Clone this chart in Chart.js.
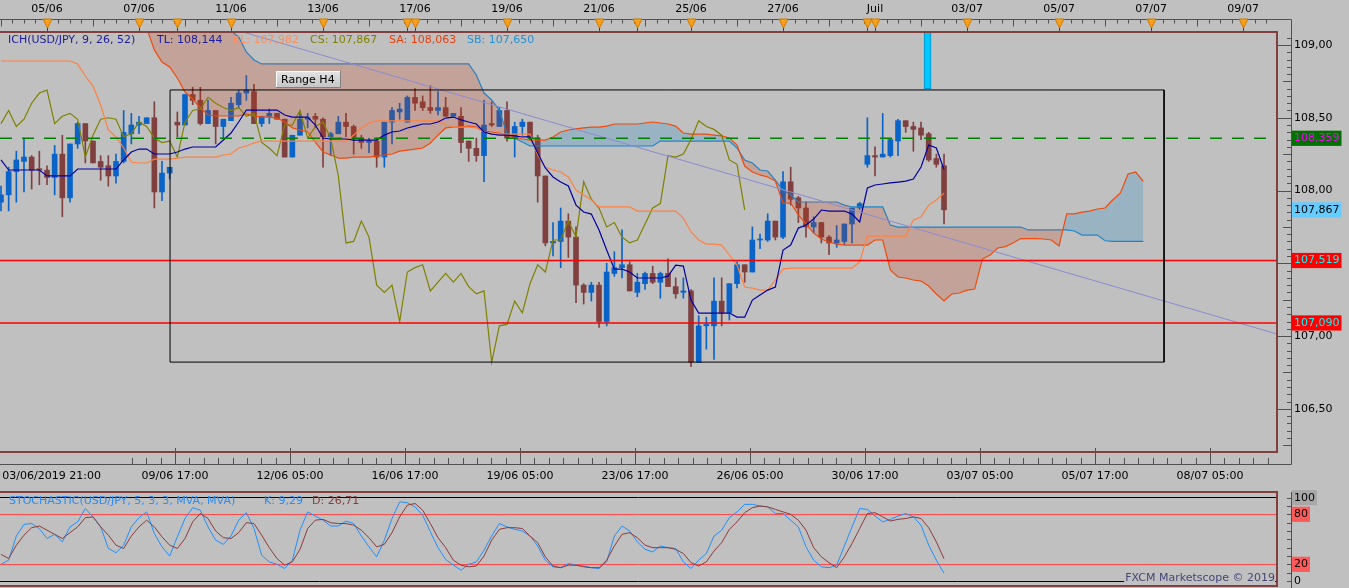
<!DOCTYPE html>
<html><head><meta charset="utf-8">
<script src="https://cdn.jsdelivr.net/npm/chart.js@4.4.1/dist/chart.umd.min.js"></script>
<style>
html,body{margin:0;padding:0;background:#c0c0c0;width:1349px;height:588px;overflow:hidden}
canvas{position:absolute;left:0;top:0}
</style></head><body>
<canvas id="main" width="1349" height="588"></canvas>
<canvas id="stoch" width="1349" height="588"></canvas>
<script>
// ---------------- DATA ----------------
const OPEN = [107.92,107.97,108.13,108.20,108.23,108.15,108.14,108.09,108.25,107.95,108.32,108.46,108.34,108.20,108.17,108.10,108.20,108.39,108.45,108.46,108.50,107.99,108.12,108.47,108.45,108.66,108.62,108.46,108.55,108.44,108.48,108.59,108.67,108.68,108.46,108.51,108.53,108.49,108.23,108.38,108.49,108.51,108.49,108.37,108.39,108.47,108.44,108.36,108.33,108.34,108.23,108.47,108.54,108.47,108.64,108.61,108.57,108.55,108.57,108.51,108.51,108.34,108.29,108.24,108.46,108.44,108.55,108.36,108.44,108.47,108.36,108.10,107.64,107.65,107.79,107.68,107.35,107.30,107.35,107.10,107.43,107.47,107.49,107.30,107.36,107.43,107.37,107.43,107.34,107.30,107.31,106.82,107.07,107.07,107.24,107.16,107.36,107.49,107.44,107.66,107.66,107.79,107.68,108.06,107.95,107.88,107.75,107.78,107.68,107.64,107.65,107.77,107.88,108.18,108.24,108.23,108.24,108.34,108.48,108.44,108.43,108.39,108.22,108.17];
const HIGH = [108.03,108.16,108.27,108.36,108.24,108.27,108.17,108.31,108.38,108.32,108.47,108.46,108.34,108.24,108.24,108.25,108.55,108.53,108.51,108.50,108.61,108.20,108.16,108.54,108.66,108.71,108.71,108.62,108.55,108.49,108.64,108.69,108.79,108.73,108.51,108.56,108.53,108.49,108.38,108.54,108.53,108.53,108.50,108.40,108.51,108.53,108.45,108.38,108.36,108.36,108.47,108.57,108.60,108.65,108.70,108.65,108.72,108.68,108.64,108.53,108.57,108.34,108.36,108.62,108.61,108.57,108.61,108.47,108.49,108.47,108.38,108.10,107.78,107.88,107.84,107.75,107.36,107.37,107.37,107.50,107.58,107.73,107.51,107.43,107.44,107.48,107.44,107.53,107.40,107.40,107.32,107.14,107.13,107.40,107.40,107.36,107.51,107.49,107.75,107.70,107.84,107.79,108.13,108.16,107.96,107.92,107.82,107.78,107.69,107.76,107.77,107.88,107.92,108.50,108.30,108.53,108.35,108.49,108.48,108.47,108.47,108.40,108.25,108.25];
const LOW = [107.86,107.86,107.92,107.99,108.01,108.04,108.04,107.97,107.82,107.92,108.29,108.19,108.19,108.07,108.03,108.05,108.19,108.32,108.39,108.46,107.88,107.93,108.08,108.37,108.45,108.59,108.45,108.46,108.32,108.36,108.48,108.57,108.62,108.46,108.44,108.46,108.49,108.23,108.23,108.38,108.43,108.43,108.16,108.24,108.39,108.37,108.25,108.29,108.26,108.16,108.16,108.32,108.49,108.47,108.55,108.55,108.53,108.52,108.51,108.51,108.26,108.20,108.20,108.06,108.44,108.44,108.34,108.23,108.38,108.35,107.92,107.62,107.55,107.47,107.54,107.23,107.22,107.24,107.06,107.07,107.41,107.40,107.31,107.27,107.32,107.36,107.26,107.34,107.26,107.26,106.79,106.82,106.91,106.84,107.07,107.11,107.33,107.37,107.44,107.60,107.65,107.66,107.67,107.90,107.78,107.68,107.71,107.64,107.56,107.61,107.63,107.64,107.87,108.16,108.10,108.23,108.23,108.24,108.40,108.27,108.35,108.20,108.16,107.77];
const CLOSE = [107.97,108.13,108.21,108.23,108.14,108.14,108.09,108.25,107.95,108.32,108.46,108.34,108.19,108.16,108.10,108.20,108.40,108.45,108.47,108.50,107.99,108.12,108.16,108.45,108.66,108.62,108.46,108.55,108.44,108.49,108.60,108.67,108.69,108.46,108.51,108.53,108.49,108.23,108.38,108.49,108.50,108.49,108.37,108.39,108.47,108.44,108.36,108.33,108.34,108.23,108.47,108.55,108.56,108.64,108.60,108.57,108.55,108.57,108.51,108.53,108.33,108.29,108.24,108.45,108.45,108.55,108.36,108.44,108.47,108.36,108.10,107.64,107.65,107.79,107.68,107.35,107.30,107.35,107.10,107.44,107.47,107.49,107.31,107.37,107.43,107.37,107.43,107.34,107.29,107.31,106.82,107.07,107.08,107.24,107.16,107.36,107.49,107.44,107.66,107.66,107.79,107.68,108.06,107.94,107.88,107.75,107.78,107.68,107.64,107.66,107.77,107.88,107.91,108.24,108.23,108.25,108.35,108.48,108.44,108.42,108.38,108.21,108.18,107.867];

const TENKAN = [108.210,108.141,108.141,108.141,108.141,108.141,108.100,108.100,108.100,108.100,108.148,108.148,108.148,108.148,108.148,108.148,108.210,108.265,108.285,108.285,108.251,108.251,108.251,108.265,108.285,108.299,108.299,108.299,108.299,108.347,108.395,108.471,108.553,108.553,108.553,108.553,108.553,108.519,108.505,108.505,108.505,108.450,108.361,108.354,108.354,108.354,108.347,108.347,108.347,108.347,108.381,108.402,108.409,108.430,108.443,108.457,108.457,108.471,108.498,108.505,108.485,108.471,108.457,108.402,108.388,108.381,108.381,108.375,108.368,108.368,108.258,108.155,108.093,108.058,108.031,107.900,107.852,107.838,107.729,107.591,107.460,107.460,107.440,107.399,107.399,107.399,107.399,107.412,107.488,107.481,107.247,107.158,107.158,107.158,107.158,107.158,107.130,107.130,107.247,107.282,107.316,107.337,107.591,107.625,107.742,107.763,107.804,107.866,107.859,107.859,107.859,107.838,107.784,108.017,108.038,108.045,108.052,108.058,108.065,108.079,108.162,108.313,108.292,108.144];
const KIJUN = [108.890,108.890,108.890,108.890,108.890,108.890,108.890,108.890,108.890,108.890,108.869,108.787,108.718,108.588,108.416,108.368,108.292,108.196,108.189,108.189,108.216,108.216,108.216,108.223,108.230,108.230,108.230,108.230,108.230,108.244,108.251,108.292,108.306,108.327,108.340,108.340,108.340,108.340,108.340,108.340,108.340,108.340,108.340,108.340,108.340,108.340,108.381,108.430,108.464,108.478,108.478,108.478,108.478,108.478,108.478,108.478,108.478,108.478,108.450,108.436,108.436,108.436,108.430,108.402,108.388,108.388,108.388,108.388,108.388,108.388,108.244,108.162,108.141,108.127,108.093,108.003,107.969,107.935,107.887,107.887,107.887,107.887,107.887,107.859,107.859,107.859,107.859,107.859,107.859,107.811,107.715,107.660,107.632,107.632,107.625,107.557,107.488,107.337,107.330,107.316,107.316,107.385,107.460,107.467,107.467,107.467,107.467,107.467,107.467,107.467,107.467,107.467,107.509,107.687,107.687,107.687,107.687,107.687,107.687,107.797,107.818,107.900,107.935,107.982];
const CHIKOU = [108.46,108.55,108.44,108.49,108.60,108.67,108.69,108.46,108.51,108.53,108.49,108.23,108.38,108.49,108.50,108.49,108.37,108.39,108.47,108.44,108.36,108.33,108.34,108.23,108.47,108.55,108.56,108.64,108.60,108.57,108.55,108.57,108.51,108.53,108.33,108.29,108.24,108.45,108.45,108.55,108.36,108.44,108.47,108.36,108.10,107.64,107.65,107.79,107.68,107.35,107.30,107.35,107.10,107.44,107.47,107.49,107.31,107.37,107.43,107.37,107.43,107.34,107.29,107.31,106.82,107.07,107.08,107.24,107.16,107.36,107.49,107.44,107.66,107.66,107.79,107.68,108.06,107.94,107.88,107.75,107.78,107.68,107.64,107.66,107.77,107.88,107.91,108.24,108.23,108.25,108.35,108.48,108.44,108.42,108.38,108.21,108.18,107.867];
const SENKOU_A = [109.30,109.30,109.30,109.30,109.30,109.30,109.30,109.30,109.30,109.30,109.30,109.25,109.25,109.25,109.25,109.20,109.17,109.15,109.13,109.117,108.966,108.883,108.849,108.773,108.677,108.629,108.567,108.519,108.512,108.512,108.512,108.512,108.526,108.512,108.505,108.505,108.498,108.471,108.430,108.416,108.402,108.333,108.265,108.244,108.223,108.223,108.230,108.230,108.230,108.237,108.244,108.251,108.271,108.278,108.285,108.292,108.327,108.381,108.430,108.436,108.436,108.443,108.436,108.409,108.402,108.395,108.381,108.368,108.354,108.347,108.347,108.347,108.368,108.402,108.416,108.423,108.430,108.436,108.436,108.443,108.457,108.457,108.457,108.457,108.464,108.471,108.464,108.457,108.443,108.395,108.388,108.388,108.388,108.381,108.375,108.361,108.313,108.168,108.127,108.107,108.093,108.065,107.914,107.914,107.832,107.770,107.708,107.667,107.646,107.632,107.625,107.625,107.625,107.625,107.660,107.660,107.454,107.406,107.399,107.385,107.378,107.344,107.289,107.241,107.289,107.296,107.316,107.323,107.529,107.557,107.605,107.615,107.639,107.670,107.670,107.670,107.667,107.660,107.619,107.839,107.839,107.852,107.859,107.873,107.880,107.935,107.983,108.113,108.127,108.063];
const SENKOU_B = [109.40,109.40,109.40,109.40,109.40,109.40,109.40,109.40,109.40,109.40,109.40,109.40,109.40,109.40,109.40,109.40,109.40,109.40,109.40,109.40,109.40,109.40,109.40,109.40,109.40,109.40,109.30,109.25,109.19,109.144,109.096,109.055,108.952,108.897,108.870,108.870,108.870,108.870,108.870,108.870,108.870,108.870,108.870,108.870,108.870,108.870,108.870,108.870,108.870,108.870,108.870,108.870,108.870,108.870,108.870,108.870,108.870,108.870,108.870,108.870,108.870,108.870,108.794,108.670,108.622,108.553,108.388,108.361,108.333,108.306,108.306,108.306,108.306,108.306,108.306,108.306,108.306,108.306,108.306,108.306,108.306,108.306,108.306,108.306,108.306,108.306,108.340,108.340,108.340,108.340,108.340,108.340,108.340,108.340,108.340,108.340,108.292,108.210,108.189,108.141,108.134,108.072,108.003,107.969,107.921,107.921,107.921,107.921,107.921,107.921,107.900,107.887,107.887,107.887,107.887,107.887,107.763,107.749,107.749,107.749,107.749,107.749,107.749,107.749,107.749,107.749,107.749,107.749,107.749,107.749,107.749,107.749,107.749,107.749,107.729,107.729,107.729,107.729,107.729,107.729,107.722,107.694,107.694,107.694,107.655,107.650,107.650,107.650,107.650,107.650];

const STOCH_K = [20,25,54,68,69,63,51,56,47,65,71,87,77,65,39,34,43,65,76,83,57,41,30,53,75,88,85,65,49,44,54,73,82,63,31,23,20,15,25,61,83,78,73,66,66,72,69,54,41,29,49,75,95,94,89,79,59,40,26,19,13,20,23,37,54,69,65,62,60,54,42,25,17,16,21,19,18,16,15,23,54,66,60,47,38,35,42,40,39,23,15,25,33,54,61,76,83,92,92,90,89,81,81,73,65,41,25,17,16,19,42,65,87,86,78,71,74,78,81,77,67,43,25,9.29];
const STOCH_D = [32,27,43,55,64,66,61,56,51,58,65,76,77,65,55,43,39,54,65,73,65,53,43,39,51,71,81,75,60,52,51,58,70,69,55,40,27,19,23,38,63,73,74,70,69,69,67,61,52,41,44,58,77,91,93,85,69,52,40,25,19,17,18,30,49,62,64,64,63,54,46,29,18,16,19,19,17,16,16,25,42,56,58,52,43,40,40,40,38,33,22,18,23,36,46,62,71,82,88,90,89,86,83,80,73,61,40,29,22,16,29,45,63,81,82,77,72,74,75,77,75,64,47,26.71];

const TOP_LABELS = ['05/06','07/06','11/06','13/06','17/06','19/06','21/06','25/06','27/06','Juil','03/07','05/07','07/07','09/07'];
const TOP_LABEL_IDX = [6,18,30,42,54,66,78,90,102,114,126,138,150,162];
const BOTTOM_LABELS = ['03/06/2019 21:00','09/06 17:00','12/06 05:00','16/06 17:00','19/06 05:00','23/06 17:00','26/06 05:00','30/06 17:00','03/07 05:00','05/07 17:00','08/07 05:00'];
const BOTTOM_LABEL_IDX = [6.6,22.7,37.7,52.7,67.7,82.7,97.7,112.7,127.7,142.7,157.7];
const EVENT_MARKERS = [6,18,23,30,42,53,54,66,78,83,90,102,113,114,126,138,150,162];
const PRICE_TICKS = [106.5,107,107.5,108,108.5,109];
const LEVEL_GREEN = 108.359;
const LEVEL_RED = [107.519, 107.090];
const LAST_PRICE = 107.867;
const RANGE_BOX = [22.05, 151.7, 106.821, 108.691]; // idx from, idx to, low, high
const TREND = [[31.5, 109.09], [166.43, 107.014]];
const NEWS_BAR = [120.85, 108.70, 109.3];
const STOCH_TICKS = [0, 20, 80, 100];
const LEGEND = ['ICH(USD/JPY, 9, 26, 52)', 'TL: 108,144', 'KL: 107,982', 'CS: 107,867', 'SA: 108,063', 'SB: 107,650'];
const STOCH_LEGEND = ['STOCHASTIC(USD/JPY, 5, 3, 3, MVA, MVA)', 'K: 9,29', 'D: 26,71'];

// ---------------- SETUP ----------------
const X_MIN = -0.13, X_MAX = 166.43;
const FONT = "'DejaVu Sans', Verdana, sans-serif";
const TAG_VALUES = [LEVEL_GREEN, LAST_PRICE, LEVEL_RED[0], LEVEL_RED[1]];
const tagStyle = v => {
  if (v === LEVEL_GREEN) return ['#007000', '#ff00ff'];
  if (v === LAST_PRICE) return ['#66ccff', '#000000'];
  if (LEVEL_RED.includes(v)) return ['#ff0000', '#00ffff'];
  return ['rgba(0,0,0,0)', '#000000'];
};
const pts = arr => arr.map((v, i) => ({x: i, y: v}));
const hline = v => [{x: X_MIN, y: v}, {x: X_MAX, y: v}];
const bull = i => CLOSE[i] >= OPEN[i];
const BLUE = '#0a64c8', BROWN = '#804040';
const fixSize = (w, h) => s => {
  if (w !== null) s.width = w;
  if (h !== null) s.height = h;
  s.paddingLeft = 0; s.paddingRight = 0; s.paddingTop = 0; s.paddingBottom = 0;
};

const mainDeco = {
  id: 'mainDeco',
  afterDraw(chart) {
    const {ctx, scales: {x, y}} = chart;
    ctx.save();
    ctx.strokeStyle = '#505050';
    ctx.lineWidth = 1;
    ctx.beginPath();
    ctx.moveTo(0, 19.5); ctx.lineTo(1291.5, 19.5);
    ctx.moveTo(1291.5, 19.5); ctx.lineTo(1291.5, 464.5);
    ctx.moveTo(0, 464.5); ctx.lineTo(1291.5, 464.5);
    for (let k = 0; k * 1.5 <= X_MAX; k++) {
      const px = Math.round(x.getPixelForValue(k * 1.5)) + 0.5;
      const len = (k % 4 === 0) ? 7 : 4;
      ctx.moveTo(px, 19.5); ctx.lineTo(px, 19.5 + len);
    }
    for (let k = -3; 22.7 + k * 1.875 <= X_MAX; k++) {
      const v = 22.7 + k * 1.875;
      const px = Math.round(x.getPixelForValue(v)) + 0.5;
      const major = (k % 8 === 0);
      ctx.moveTo(px, 464.5); ctx.lineTo(px, major ? 448 : 458);
    }
    for (let p = 106.25; p <= 109.06; p += 0.05) {
      const py = Math.round(y.getPixelForValue(p)) + 0.5;
      if (py < 33 || py > 451) continue;
      const r = Math.round(p * 100);
      let x0 = 1287;
      if (r % 50 === 0) x0 = 1277; else if (r % 25 === 0) x0 = 1283;
      ctx.moveTo(x0, py); ctx.lineTo(1291.5, py);
    }
    ctx.stroke();
    // event markers
    EVENT_MARKERS.forEach(m => {
      const px = Math.round(x.getPixelForValue(m)) + 0.5;
      ctx.beginPath();
      ctx.strokeStyle = '#404040';
      ctx.moveTo(px, 26); ctx.lineTo(px, 31); ctx.stroke();
      ctx.beginPath();
      ctx.moveTo(px - 4.5, 19); ctx.lineTo(px + 4.5, 19); ctx.lineTo(px, 28); ctx.closePath();
      ctx.fillStyle = '#f8a01c'; ctx.fill();
      ctx.strokeStyle = '#c87800'; ctx.stroke();
    });
    // frame
    ctx.strokeStyle = '#804040';
    ctx.lineWidth = 2;
    ctx.beginPath();
    ctx.moveTo(0, 32); ctx.lineTo(1277, 32); ctx.lineTo(1277, 452); ctx.lineTo(0, 452);
    ctx.stroke();
    // legend
    ctx.font = '11px ' + FONT;
    ctx.textBaseline = 'middle';
    const lx = [8, 157, 233, 310, 389, 467];
    const lc = ['#1c1c9c', '#1c1c9c', '#ff8c5a', '#808000', '#e8400c', '#2890d0'];
    LEGEND.forEach((t, i) => { ctx.fillStyle = lc[i]; ctx.fillText(t, lx[i], 40); });
    // Range H4 label
    const bx = 276, by = 71, bw = 65, bh = 17;
    const g = ctx.createLinearGradient(0, by, 0, by + bh);
    g.addColorStop(0, '#e4e4e4'); g.addColorStop(1, '#c4c4c4');
    ctx.fillStyle = g;
    ctx.fillRect(bx, by, bw, bh);
    ctx.lineWidth = 1;
    ctx.strokeStyle = '#ffffff';
    ctx.beginPath(); ctx.moveTo(bx + 0.5, by + bh); ctx.lineTo(bx + 0.5, by + 0.5); ctx.lineTo(bx + bw, by + 0.5); ctx.stroke();
    ctx.strokeStyle = '#808080';
    ctx.beginPath(); ctx.moveTo(bx + bw - 0.5, by); ctx.lineTo(bx + bw - 0.5, by + bh - 0.5); ctx.lineTo(bx, by + bh - 0.5); ctx.stroke();
    ctx.fillStyle = '#000';
    ctx.fillText('Range H4', bx + 5, by + bh / 2 + 0.5);
    ctx.restore();
  }
};

const stochDeco = {
  id: 'stochDeco',
  afterDraw(chart) {
    const {ctx, scales: {y}} = chart;
    ctx.save();
    ctx.strokeStyle = '#505050';
    ctx.lineWidth = 1;
    ctx.beginPath();
    ctx.moveTo(1291.5, 492); ctx.lineTo(1291.5, 588);
    for (let v = 0; v <= 100; v += 10) {
      const py = Math.round(y.getPixelForValue(v)) + 0.5;
      ctx.moveTo(1287, py); ctx.lineTo(1291.5, py);
    }
    ctx.stroke();
    ctx.strokeStyle = '#804040';
    ctx.lineWidth = 2;
    ctx.beginPath();
    ctx.moveTo(0, 492); ctx.lineTo(1277, 492); ctx.lineTo(1277, 586); ctx.lineTo(0, 586);
    ctx.stroke();
    ctx.font = '11px ' + FONT;
    ctx.textBaseline = 'middle';
    ctx.fillStyle = '#2a8cf0';
    ctx.fillText(STOCH_LEGEND[0], 9, 501);
    ctx.fillText(STOCH_LEGEND[1], 264, 501);
    ctx.fillStyle = '#804040';
    ctx.fillText(STOCH_LEGEND[2], 312, 501);
    const t = 'FXCM Marketscope \u00a9 2019';
    const w = ctx.measureText(t).width;
    ctx.fillStyle = '#c0c0c0';
    ctx.fillRect(1275 - w - 1, 571, w + 1, 14);
    ctx.fillStyle = '#45457a';
    ctx.fillText(t, 1275 - w, 578);
    ctx.restore();
  }
};

const mainChart = new Chart(document.getElementById('main'), {
  type: 'line',
  data: {
    datasets: [
      {label: 'SA', data: pts(SENKOU_A), borderColor: '#f04a0a', borderWidth: 1.2, pointRadius: 0, order: 3,
       fill: {target: 1, above: 'rgba(0,130,210,0.2)', below: 'rgba(212,50,0,0.2)'}},
      {label: 'SB', data: pts(SENKOU_B), borderColor: '#1e86cc', borderWidth: 1.2, pointRadius: 0, order: 3, fill: false},
      {label: 'TL', data: pts(TENKAN), borderColor: '#0000a0', borderWidth: 1.2, pointRadius: 0, order: 2, fill: false},
      {label: 'KL', data: pts(KIJUN), borderColor: '#ff8040', borderWidth: 1.2, pointRadius: 0, order: 2, fill: false},
      {label: 'CS', data: pts(CHIKOU), borderColor: '#808000', borderWidth: 1.2, pointRadius: 0, order: 2, fill: false},
      {type: 'bar', label: 'wick', data: HIGH.map((h, i) => ({x: i, y: [LOW[i], h]})), grouped: false, barThickness: 1,
       backgroundColor: c => bull(c.dataIndex) ? BLUE : BROWN, borderWidth: 0, order: 4},
      {type: 'bar', label: 'body', data: OPEN.map((o, i) => ({x: i, y: [o, CLOSE[i]]})), grouped: false, barThickness: 5, minBarLength: 1,
       backgroundColor: c => bull(c.dataIndex) ? BLUE : BROWN, borderWidth: 0, order: 4},
      {type: 'bar', label: 'news', data: [{x: NEWS_BAR[0], y: [NEWS_BAR[1], NEWS_BAR[2]]}], grouped: false, barThickness: 7,
       backgroundColor: '#00c8ff', borderColor: '#0090c8', borderWidth: 1, borderSkipped: false, order: 4},
      {label: 'range', data: [{x: RANGE_BOX[0], y: RANGE_BOX[3]}, {x: RANGE_BOX[1], y: RANGE_BOX[3]}, {x: RANGE_BOX[1], y: RANGE_BOX[2]}, {x: RANGE_BOX[0], y: RANGE_BOX[2]}, {x: RANGE_BOX[0], y: RANGE_BOX[3]}],
       borderColor: '#000000', borderWidth: 1, pointRadius: 0, order: 1, fill: false},
      {label: 'green', data: hline(LEVEL_GREEN), borderColor: '#008000', borderWidth: 1.5, borderDash: [12, 10], pointRadius: 0, order: 1, fill: false},
      {label: 'red1', data: hline(LEVEL_RED[0]), borderColor: '#ff0000', borderWidth: 1.5, pointRadius: 0, order: 1, fill: false},
      {label: 'red2', data: hline(LEVEL_RED[1]), borderColor: '#ff0000', borderWidth: 1.5, pointRadius: 0, order: 1, fill: false},
      {label: 'trend', data: TREND.map(p => ({x: p[0], y: p[1]})), borderColor: '#8a8ad0', borderWidth: 1, pointRadius: 0, order: 1, fill: false}
    ]
  },
  options: {
    responsive: false, animation: false, devicePixelRatio: 1, events: [],
    layout: {padding: 0, autoPadding: false},
    plugins: {legend: {display: false}, tooltip: {enabled: false}},
    scales: {
      x: {type: 'linear', position: 'bottom', min: X_MIN, max: X_MAX, offset: false,
          grid: {display: false, drawTicks: false}, border: {display: false},
          afterFit: fixSize(null, 136),
          afterBuildTicks: s => { s.ticks = BOTTOM_LABEL_IDX.map(v => ({value: v})); },
          ticks: {autoSkip: false, maxRotation: 0, minRotation: 0, padding: 18, color: '#000',
                  font: {family: FONT, size: 11}, callback: (v, i) => BOTTOM_LABELS[i]}},
      xTop: {type: 'linear', position: 'top', min: X_MIN, max: X_MAX, offset: false,
          grid: {display: false, drawTicks: false}, border: {display: false},
          afterFit: fixSize(null, 32),
          afterBuildTicks: s => { s.ticks = TOP_LABEL_IDX.map(v => ({value: v})); },
          ticks: {autoSkip: false, maxRotation: 0, minRotation: 0, padding: 16, color: '#000',
                  font: {family: FONT, size: 11}, callback: (v, i) => TOP_LABELS[i]}},
      y: {type: 'linear', position: 'right', min: 106.2033, max: 109.0893,
          grid: {display: false, drawTicks: false}, border: {display: false},
          afterFit: fixSize(72, null),
          afterBuildTicks: s => { s.ticks = PRICE_TICKS.concat(TAG_VALUES).map(v => ({value: v})); },
          ticks: {autoSkip: false, padding: 17, font: {family: FONT, size: 11},
                  color: c => tagStyle(c.tick.value)[1],
                  showLabelBackdrop: true, backdropPadding: {x: 2, y: 1},
                  backdropColor: c => tagStyle(c.tick.value)[0],
                  callback: v => (TAG_VALUES.includes(v) ? v.toFixed(3) : v.toFixed(2)).replace('.', ',')}}
    }
  },
  plugins: [mainDeco]
});

const stochStyle = v => v === 100 ? '#a8a8a8' : (v === 80 || v === 20) ? '#ff5a5a' : 'rgba(0,0,0,0)';
const stochChart = new Chart(document.getElementById('stoch'), {
  type: 'line',
  data: {
    datasets: [
      {label: 'D', data: pts(STOCH_D), borderColor: '#8b3a3a', borderWidth: 1, pointRadius: 0, fill: false},
      {label: 'K', data: pts(STOCH_K), borderColor: '#1e90ff', borderWidth: 1, pointRadius: 0, fill: false}
    ]
  },
  options: {
    responsive: false, animation: false, devicePixelRatio: 1, events: [],
    layout: {padding: {top: 492, bottom: 2, left: 0, right: 0}, autoPadding: false},
    plugins: {legend: {display: false}, tooltip: {enabled: false}},
    scales: {
      x: {type: 'linear', display: false, min: X_MIN, max: X_MAX, offset: false},
      y: {type: 'linear', position: 'right', min: -6, max: 106.84,
          grid: {drawTicks: false, lineWidth: 1, color: c => (c.tick.value === 0 || c.tick.value === 100) ? '#000000' : '#ff4a4a'},
          border: {display: false},
          afterFit: fixSize(72, null),
          afterBuildTicks: s => { s.ticks = STOCH_TICKS.map(v => ({value: v})); },
          ticks: {autoSkip: false, padding: 17, color: '#000', font: {family: FONT, size: 11},
                  showLabelBackdrop: true, backdropPadding: {x: 2, y: 1},
                  backdropColor: c => stochStyle(c.tick.value),
                  callback: v => String(v)}}
    }
  },
  plugins: [stochDeco]
});
</script>
</body></html>
